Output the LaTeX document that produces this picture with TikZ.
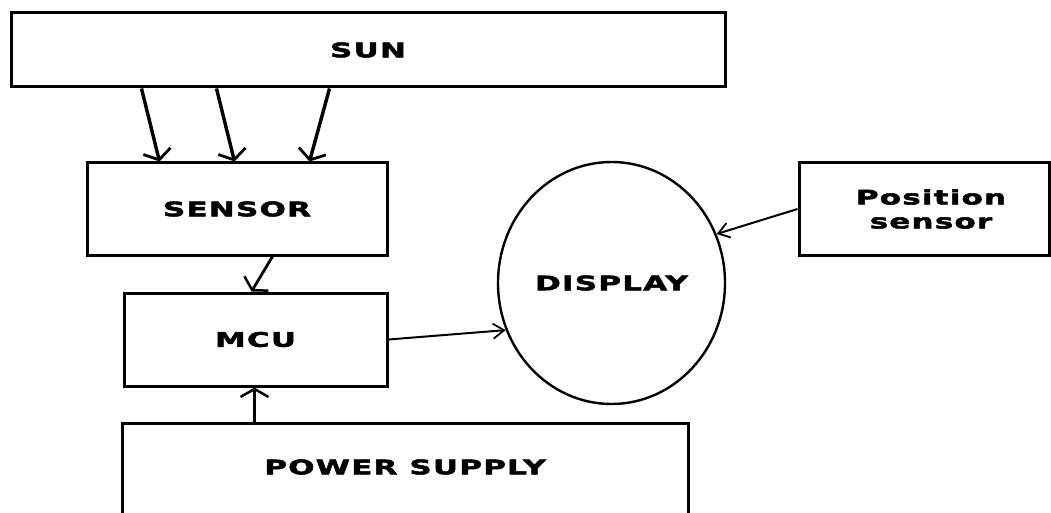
\documentclass[tikz,border=0pt]{standalone}
\usepackage{fontspec}
\newfontfamily\boxfont[FakeStretch=1.55,LetterSpace=6,FakeBold=2.5]{DejaVu Sans Bold}
\usetikzlibrary{arrows.meta,shapes.geometric}
\tikzset{
  blk/.style={draw=black, line width=3pt, rectangle, inner sep=0pt, font=\boxfont\fontsize{20}{24}\selectfont, align=center},
  oval/.style={draw=black, line width=2.4pt, ellipse, inner sep=0pt, font=\boxfont\fontsize{20}{24}\selectfont},
  lbl/.style={font=\boxfont\fontsize{20}{24}\selectfont, inner sep=0pt},
  sunarrow/.style={line width=3.4pt, -{Straight Barb[length=9pt,width=28pt,line width=2.8pt]}},
  conn/.style={line width=2.8pt, -{Straight Barb[length=8pt,width=28pt,line width=2.5pt]}},
  thin/.style={line width=2pt, -{Straight Barb[length=11pt,width=15pt,line width=1.8pt]}}
}
\begin{document}
\begin{tikzpicture}[x=1pt,y=-1pt]
\clip (0,0) rectangle (1051,513);
\fill[white] (0,0) rectangle (1051,513);
\node[blk, minimum width=714pt, minimum height=74pt] (sun) at (368,50) {SUN};
\node[blk, minimum width=300pt, minimum height=92pt] (sensor) at (237,209) {SENSOR};
\node[blk, minimum width=263pt, minimum height=93pt] (mcu) at (255.5,339.5) {MCU};
\node[oval, minimum width=227pt, minimum height=242pt] (display) at (611.5,283) {DISPLAY};
\node[blk, minimum width=250pt, minimum height=92pt] (pos) at (924,209) {\hspace*{14pt}Position\\\hspace*{14pt}sensor};
\node[blk, minimum width=566pt, minimum height=110pt] (power) at (405,478) {};
\node[lbl] (powertext) at (405,467) {POWER SUPPLY};
\draw[sunarrow] ([xshift=132pt]sun.south west) -- ([xshift=74pt]sensor.north west);
\draw[sunarrow] ([xshift=207pt]sun.south west) -- ([xshift=149pt]sensor.north west);
\draw[sunarrow] ([xshift=320pt]sun.south west) -- ([xshift=224pt]sensor.north west);
\draw[conn] ([xshift=187pt]sensor.south west) -- ([xshift=129pt]mcu.north west);
\draw[thin] (mcu.east) -- (display.204);
\draw[thin] (pos.west) -- (display.25);
\draw[conn] ([xshift=134pt]power.north west) -- ([xshift=132pt]mcu.south west);
\end{tikzpicture}
\end{document}
